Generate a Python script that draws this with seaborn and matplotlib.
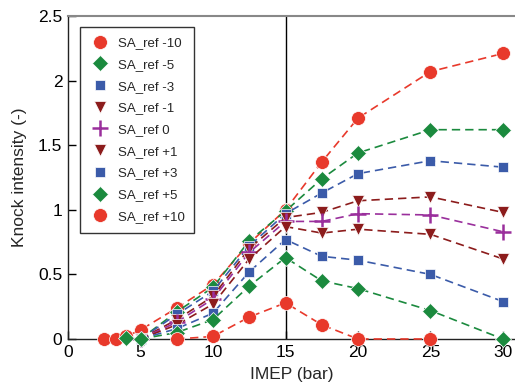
import matplotlib
matplotlib.use("Agg")
import matplotlib.pyplot as plt
from matplotlib.lines import Line2D
import seaborn as sns
import pandas as pd

sns.set_style("ticks")
plt.rcParams['font.family'] = ['Liberation Sans', 'DejaVu Sans']

labels = ["SA_ref -10", "SA_ref -5", "SA_ref -3", "SA_ref -1", "SA_ref 0",
          "SA_ref +1", "SA_ref +3", "SA_ref +5", "SA_ref +10"]

x_m10 = [2.5, 3.3, 4, 5, 7.5, 10, 12.5, 15, 17.5, 20, 25, 30]
y_m10 = [0.0, 0.0, 0.02, 0.07, 0.24, 0.42, 0.74, 1.0, 1.37, 1.71, 2.07, 2.21]
x_m5 = [4, 5, 7.5, 10, 12.5, 15, 17.5, 20, 25, 30]
y_m5 = [0.01, 0.0, 0.21, 0.40, 0.76, 0.99, 1.24, 1.44, 1.62, 1.62]
x_std = [5, 7.5, 10, 12.5, 15, 17.5, 20, 25, 30]
y_m3 = [0.0, 0.19, 0.37, 0.72, 0.97, 1.13, 1.28, 1.38, 1.33]
y_m1 = [0.0, 0.15, 0.33, 0.70, 0.94, 0.98, 1.07, 1.10, 0.98]
y_0 = [0.0, 0.13, 0.31, 0.67, 0.91, 0.91, 0.97, 0.96, 0.83]
y_p1 = [0.0, 0.11, 0.27, 0.62, 0.87, 0.82, 0.85, 0.81, 0.62]
y_p3 = [0.0, 0.08, 0.20, 0.52, 0.77, 0.64, 0.61, 0.50, 0.29]
y_p5 = [0.0, 0.05, 0.15, 0.41, 0.63, 0.45, 0.39, 0.22, 0.0]
x_p10 = [7.5, 10, 12.5, 15, 17.5, 20, 25]
y_p10 = [0.0, 0.02, 0.17, 0.28, 0.11, 0.0, 0.0]

xs = [x_m10, x_m5, x_std, x_std, x_std, x_std, x_std, x_std, x_p10]
ys = [y_m10, y_m5, y_m3, y_m1, y_0, y_p1, y_p3, y_p5, y_p10]

RED = "#e8392b"
GREEN = "#1b8a3e"
BLUE = "#3b5ba9"
DRED = "#8c1c1c"
PURPLE = "#9a2f9c"
colors = [RED, GREEN, BLUE, DRED, PURPLE, DRED, BLUE, GREEN, RED]
markers = ["o", "D", "s", "v", "+", "v", "s", "D", "o"]
msizes = [10, 8.5, 7.5, 9, 11, 9, 7.5, 8.5, 10]

fig = plt.figure(figsize=(5.15, 3.83), dpi=100)
ax = fig.add_axes([68/515, 1-339/383, 1-68/515, (339-16)/383])

for lab, x, y, c, m, ms in zip(labels, xs, ys, colors, markers, msizes):
    df = pd.DataFrame({"x": x, "y": y})
    sns.lineplot(data=df, x="x", y="y", ax=ax, color=c, marker=m, markersize=ms,
                 linestyle=(0, (5, 3)), linewidth=1.2,
                 markeredgecolor=c if m == "+" else "white",
                 markeredgewidth=1.8 if m == "+" else 0.5,
                 legend=False, clip_on=False, zorder=3)

ax.axvline(15, color="black", linewidth=1.0, zorder=2)

ax.set_xlim(0, (515-68)/14.5)
ax.set_ylim(0, 2.5)
ax.set_xticks([0, 5, 10, 15, 20, 25, 30])
ax.set_yticks([0, 0.5, 1, 1.5, 2, 2.5])
ax.set_yticklabels(["0", "0.5", "1", "1.5", "2", "2.5"])
ax.tick_params(direction="in", length=6, width=1, labelsize=12.5, colors="black")
ax.tick_params(axis="x", pad=4)
ax.tick_params(axis="y", pad=4)
ax.set_xlabel("IMEP (bar)", fontsize=12.5, labelpad=5)
ax.set_ylabel("Knock intensity (-)", fontsize=12.5, labelpad=8)

for s in ["left", "bottom"]:
    ax.spines[s].set_color("#222222")
    ax.spines[s].set_linewidth(1.0)
ax.spines["top"].set_color("#888888")
ax.spines["top"].set_linewidth(1.5)
ax.spines["right"].set_visible(False)

handles = []
for lab, c, m, ms in zip(labels, colors, markers, msizes):
    handles.append(Line2D([], [], linestyle="none", marker=m, color=c, markersize=ms,
                          markeredgecolor=c if m == "+" else "white",
                          markeredgewidth=1.8 if m == "+" else 0.5, label=lab))
leg = ax.legend(handles=handles, loc="upper left", bbox_to_anchor=(12/447, 1-11/323),
                borderaxespad=0, fontsize=9.5, frameon=True, fancybox=False,
                edgecolor="black", handletextpad=0.5, labelspacing=0.72,
                borderpad=0.75, handlelength=1.6)
leg.get_frame().set_linewidth(1.0)

fig.savefig("out.png", dpi=100)
